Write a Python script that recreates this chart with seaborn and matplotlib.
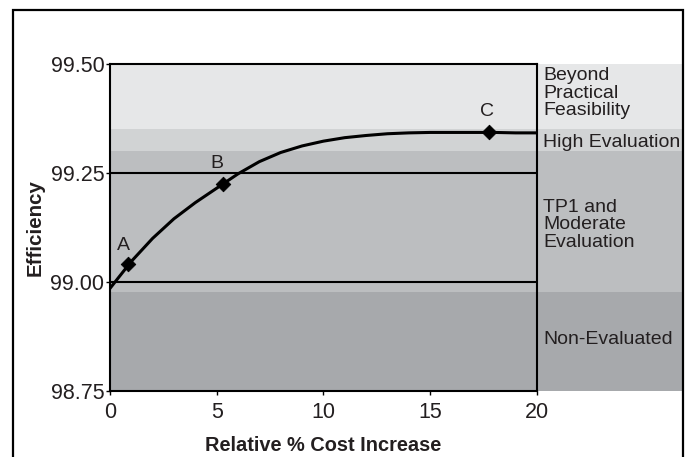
import numpy as np
import pandas as pd
import matplotlib
matplotlib.use("Agg")
import matplotlib.pyplot as plt
from matplotlib.patches import Rectangle
import seaborn as sns

# curve
cost = [0, 1, 2, 3, 4, 5, 6, 7, 8, 9, 10, 11, 12, 13, 14, 15, 16, 17, 18, 19, 20]
eff = [98.985, 99.047, 99.100, 99.145, 99.182, 99.215, 99.248, 99.276, 99.297,
       99.312, 99.323, 99.331, 99.336, 99.340, 99.342, 99.343, 99.343, 99.343,
       99.343, 99.342, 99.342]

# named points
pt_names = ["A", "B", "C"]
pt_cost = [0.84, 5.3, 17.75]
pt_eff = [99.041, 99.225, 99.344]

# evaluation bands (lower, upper, label)
band_low = [98.75, 98.977, 99.30, 99.35]
band_high = [98.977, 99.30, 99.35, 99.50]
band_labels = ["Non-Evaluated", "TP1 and\nModerate\nEvaluation", "High Evaluation",
               "Beyond\nPractical\nFeasibility"]

ref_lines = [99.00, 99.25]
x_ticks = [0, 5, 10, 15, 20]
y_ticks = [98.75, 99.00, 99.25, 99.50]

band_colors = ["#a7a9ac", "#bcbec0", "#d1d3d4", "#e6e7e8"]
ink = "#231f20"

sns.set_style("white")
plt.rcParams['font.family'] = ['Liberation Sans', 'DejaVu Sans']

fig = plt.figure(figsize=(6.91, 4.57), dpi=100)
ax = fig.add_axes([0.159, 0.1444, 0.618, 0.7156])

# bands run past the plot area into the label column
for lo, hi, c in zip(band_low, band_high, band_colors):
    ax.axhspan(lo, hi, xmin=0, xmax=1.34, color=c, lw=0, clip_on=False, zorder=0)

for y in ref_lines:
    ax.axhline(y, color="black", lw=1.5, zorder=1)

curve = pd.DataFrame({"cost": cost, "eff": eff})
sns.lineplot(data=curve, x="cost", y="eff", ax=ax, color="black", lw=2.2, zorder=3)

pts = pd.DataFrame({"cost": pt_cost, "eff": pt_eff, "name": pt_names})
sns.scatterplot(data=pts, x="cost", y="eff", ax=ax, marker="D", s=55,
                color="black", edgecolor="black", zorder=4)

label_off = [(-0.2, 0.042), (-0.3, 0.046), (-0.1, 0.048)]
for (n, x, y), (dx, dy) in zip(zip(pt_names, pt_cost, pt_eff), label_off):
    ax.text(x + dx, y + dy, n, fontsize=14, color=ink, ha="center", va="center")

label_y = [98.869, 99.131, 99.321, 99.433]
for lab, y in zip(band_labels, label_y):
    ax.text(20.3, y, lab, fontsize=14, color=ink, ha="left", va="center",
            linespacing=1.05)

ax.set_xlim(0, 20)
ax.set_ylim(98.75, 99.50)
ax.set_xticks(x_ticks)
ax.set_yticks(y_ticks)
ax.set_yticklabels([f"{v:.2f}" for v in y_ticks])
ax.tick_params(axis="both", direction="out", length=3, width=1, color="black",
               labelsize=15.5, labelcolor=ink, bottom=True, left=True)
ax.tick_params(axis="x", pad=5)
ax.tick_params(axis="y", pad=1)
for s in ax.spines.values():
    s.set_color("black")
    s.set_linewidth(1.5)

ax.set_xlabel("Relative % Cost Increase", fontsize=14.4, fontweight="bold",
              color=ink, labelpad=9)
ax.set_ylabel("Efficiency", fontsize=14.8, fontweight="bold", color=ink, labelpad=4)

# outer frame
fig.patches.append(Rectangle((0.0195, -0.1), 0.9685, 1.078, transform=fig.transFigure,
                             fill=False, lw=1.6, edgecolor="black", zorder=10))

fig.savefig("out.png", dpi=100)
